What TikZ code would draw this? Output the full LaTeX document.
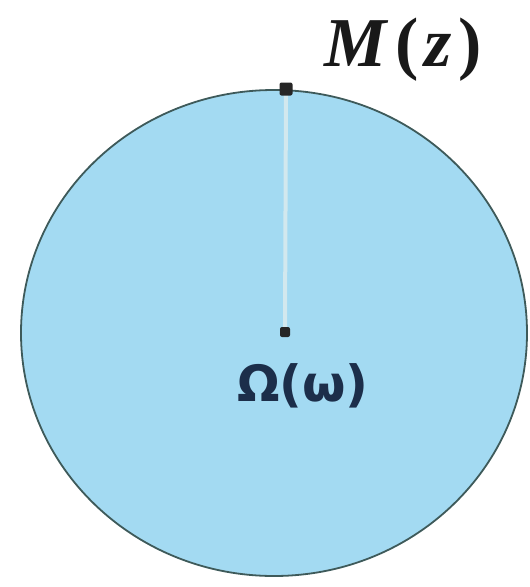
\documentclass[tikz,border=0pt]{standalone}
\usepackage{fontspec}
\newfontfamily\labelsans{DejaVu Sans}
\newfontfamily\labelserif{Liberation Serif}
\definecolor{diskfill}{HTML}{A3DAF2}
\definecolor{diskedge}{HTML}{3E5A5A}
\definecolor{radline}{HTML}{D2E8EE}
\definecolor{labelnavy}{HTML}{1C2E4A}
\begin{document}
\begin{tikzpicture}[x=1pt,y=-1pt,
  dotstyle/.style={fill=black!85,inner sep=0pt,minimum size=9pt,rectangle,rounded corners=2pt}]
\useasboundingbox (0,0) rectangle (530,587);
\fill[white] (0,0) rectangle (530,587);
\draw[fill=diskfill,draw=diskedge,line width=1.8pt] (274,333) ellipse [x radius=253, y radius=243];
\coordinate (m) at (286,89);
\coordinate (o) at (285,332);
\draw[radline,line width=4pt] (m) -- (o);
\node[dotstyle,minimum size=13pt] (M) at (m) {};
\node[dotstyle,minimum size=10pt] (O) at (o) {};
\node[font=\fontsize{70}{70}\selectfont\labelserif\bfseries,text=black!90] (ML) at (403,50) {{\itshape M}\kern9pt(\kern5pt{\itshape z}\kern7pt)};
\node[font=\fontsize{50}{50}\selectfont\labelsans\bfseries,text=labelnavy] (OL) at (303,386) {Ω(ω)};
\end{tikzpicture}
\end{document}
